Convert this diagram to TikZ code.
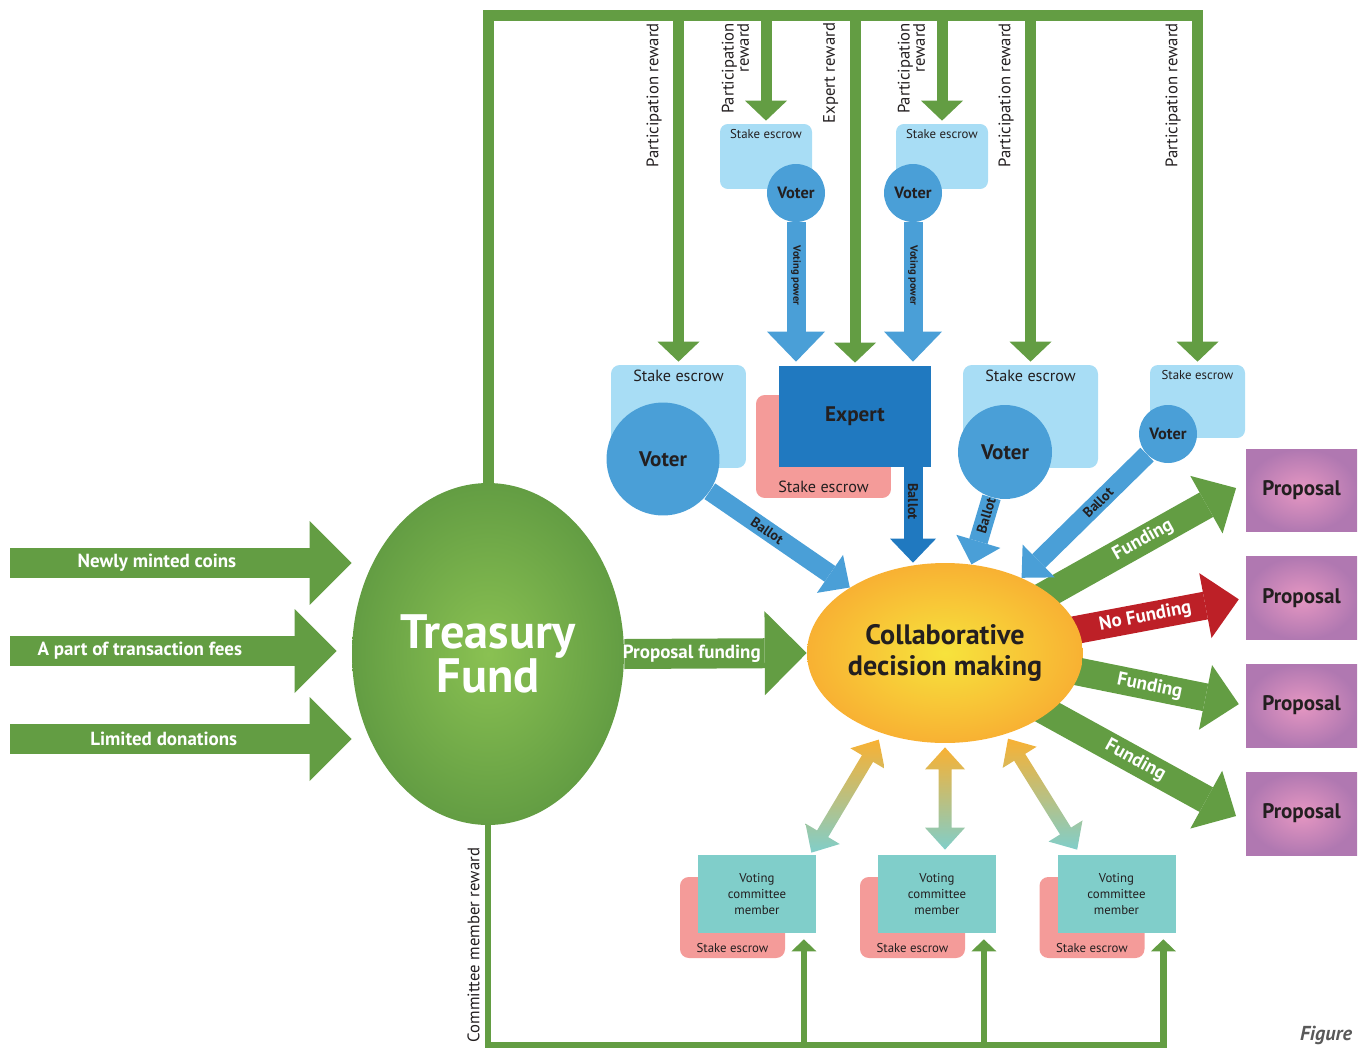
\documentclass[tikz,border=0pt]{standalone}
\usepackage{fontspec}
\setmainfont{PT Sans}
\usepackage{xcolor}
\usepackage{tikz}
\usetikzlibrary{arrows.meta,calc,shapes.geometric,backgrounds}

\definecolor{leaf}{HTML}{639D43}
\definecolor{leaflight}{HTML}{8AC152}
\definecolor{sky}{HTML}{A8DDF5}
\definecolor{voterblue}{HTML}{4A9FD7}
\definecolor{expertblue}{HTML}{2079C0}
\definecolor{salmon}{HTML}{F49B99}
\definecolor{tealbox}{HTML}{80CECA}
\definecolor{sun}{HTML}{F7E33C}
\definecolor{amber}{HTML}{F8B133}
\definecolor{plum}{HTML}{B078B1}
\definecolor{rose}{HTML}{E697C2}
\definecolor{alarm}{HTML}{BD2027}
\definecolor{ink}{HTML}{231F20}

\newcommand\fs[2]{\fontsize{#1}{#2}\selectfont}
% two-headed shaded arrow between two named points
\newcommand\gradarrow[2]{%
  \coordinate (ga) at ($(#1)!0.44cm!(#2)$);
  \coordinate (gb) at ($(#2)!0.44cm!(#1)$);
  \shade[top color=amber,bottom color=tealbox]
    (#1) -- ($(ga)!0.4cm!90:(#2)$) -- ($(ga)!0.13cm!90:(#2)$)
    -- ($(gb)!0.13cm!-90:(#1)$) -- ($(gb)!0.4cm!-90:(#1)$) -- (#2)
    -- ($(gb)!0.4cm!90:(#1)$) -- ($(gb)!0.13cm!90:(#1)$)
    -- ($(ga)!0.13cm!-90:(#2)$) -- ($(ga)!0.4cm!-90:(#2)$) -- cycle;}

\begin{document}
\begin{tikzpicture}[x=0.02cm,y=-0.02cm,
  esc/.style={fill=sky,rounded corners=5pt,minimum width=2.7cm,minimum height=2.06cm},
  escsmall/.style={fill=sky,rounded corners=4.5pt,minimum width=1.84cm,minimum height=1.3cm},
  escpink/.style={fill=salmon,rounded corners=5pt},
  lab/.style={text=ink,inner sep=3pt},
  voter/.style={circle,fill=voterblue,text=ink,inner sep=0pt,font=\bfseries\fs{12}{13}},
  prop/.style={inner color=rose,outer color=plum,minimum width=2.22cm,minimum height=1.66cm,text=ink,font=\bfseries\fs{12}{13}},
  member/.style={fill=tealbox,minimum width=2.36cm,minimum height=1.56cm,align=center,text=ink,font=\fs{7.3}{9}},
  fat/.style={line width=0.6cm,-{Triangle[length=0.84cm,width=1.68cm,line width=0pt]}},
  fund/.style={line width=0.56cm,-{Triangle[length=0.68cm,width=1.32cm,line width=0pt]}},
  ballot/.style={voterblue,line width=0.38cm,-{Triangle[length=0.48cm,width=0.92cm,line width=0pt]}},
  power/.style={voterblue,line width=0.38cm,shorten >=0.08cm,-{Triangle[length=0.6cm,width=1.16cm,line width=0pt]}},
  frame/.style={leaf,line width=0.22cm,line join=miter,shorten >=0.06cm,-{Triangle[length=0.4cm,width=0.84cm,line width=0pt]}},
  thinframe/.style={leaf,line width=0.13cm,line join=miter,shorten >=0.12cm,-{Triangle[length=0.24cm,width=0.5cm,line width=0pt]}},
  rlab/.style={rotate=90,anchor=south,inner xsep=0pt,inner ysep=6.5pt,text=ink,font=\fs{9.5}{8.7}},
  wlab/.style={text=white,font=\bfseries\fs{10.8}{12}},
  blab/.style={sloped,text=ink,inner sep=0pt,font=\bfseries\fs{8}{9}}
]
\useasboundingbox (0,0) rectangle (1362,1048);

\node[ellipse,inner color=leaflight,outer color=leaf,minimum width=5.44cm,minimum height=6.84cm,align=center,text=white,font=\bfseries\fs{27.5}{25}] (treasury) at (488,654) {Treasury\\Fund};
\node[ellipse,inner color=sun,outer color=amber,minimum width=5.52cm,minimum height=3.6cm,inner sep=0pt,align=center,text=ink,font=\bfseries\fs{16}{18}] (collab) at (945,653) {Collaborative\\decision making};

\node[escsmall,label={[lab,anchor=north,font=\fs{7.3}{8}]north:Stake escrow}] (stakeA) at (766,156.5) {};
\node[voter,minimum size=1.16cm,font=\bfseries\fs{9.3}{10}] (voterA) at (796,193) {Voter};
\node[escsmall,label={[lab,anchor=north,font=\fs{7.3}{8}]north:Stake escrow}] (stakeB) at (942,156.5) {};
\node[voter,minimum size=1.16cm,font=\bfseries\fs{9.3}{10}] (voterB) at (913,193) {Voter};

\node[esc,label={[lab,anchor=north,font=\fs{9.2}{10}]north:Stake escrow}] (stake1) at (678.5,416.5) {};
\node[voter,minimum size=2.26cm] (voter1) at (663,459) {Voter};
\node[escpink,minimum width=2.7cm,minimum height=2.06cm,label={[lab,anchor=south,font=\fs{9.2}{10}]south:Stake escrow}] (expstake) at (823.5,446.5) {};
\node[fill=expertblue,minimum width=3.04cm,minimum height=2.02cm,text=ink,font=\bfseries\fs{12}{13}] (expert) at (855,416.5) {Expert};
\node[esc,label={[lab,anchor=north,font=\fs{9.2}{10}]north:Stake escrow}] (stake3) at (1030.5,416.5) {};
\node[voter,minimum size=1.88cm] (voter3) at (1005,452) {Voter};
\node[escsmall,minimum width=1.9cm,minimum height=1.46cm,label={[lab,anchor=north,font=\fs{7.3}{8}]north:Stake escrow}] (stake4) at (1197.5,401.5) {};
\node[voter,minimum size=1.16cm,font=\bfseries\fs{9.3}{10}] (voter4) at (1168,434) {Voter};

\node[prop] (prop1) at (1301.5,490.5) {Proposal};
\node[prop] (prop2) at (1301.5,598) {Proposal};
\node[prop] (prop3) at (1301.5,705.5) {Proposal};
\node[prop] (prop4) at (1301.5,813.5) {Proposal};

\node[escpink,minimum width=2.1cm,minimum height=1.62cm,label={[lab,anchor=south,font=\fs{7.3}{8}]south:Stake escrow}] (cstake1) at (732.5,917.5) {};
\node[member] (member1) at (757,894) {Voting\\committee\\member};
\node[escpink,minimum width=2.1cm,minimum height=1.62cm,label={[lab,anchor=south,font=\fs{7.3}{8}]south:Stake escrow}] (cstake2) at (912.5,917.5) {};
\node[member] (member2) at (937,894) {Voting\\committee\\member};
\node[escpink,minimum width=2.1cm,minimum height=1.62cm,label={[lab,anchor=south,font=\fs{7.3}{8}]south:Stake escrow}] (cstake3) at (1092,917.5) {};
\node[member] (member3) at (1116.5,894) {Voting\\committee\\member};

\node[text=black!65,font=\bfseries\itshape\fs{11.5}{12}] (figlabel) at (1326,1035) {Figure};

\coordinate (in1) at (10,563);
\coordinate (in2) at (10,651);
\coordinate (in3) at (10,739);
\coordinate (top) at (0,15.5);
\coordinate (bot) at (0,1045);

\draw[fat,leaf] (in1) -- node[wlab,pos=.43]{Newly minted coins} (in1 -| treasury.west);
\draw[fat,leaf,shorten >=0.3cm] (in2) -- node[wlab,pos=.38]{A part of transaction fees} (in2 -| treasury.west);
\draw[fat,leaf] (in3) -- node[wlab,pos=.45]{Limited donations} (in3 -| treasury.west);
\draw[fat,leaf] (treasury.east) -- node[wlab,pos=.37]{Proposal funding} (collab.west);

\draw[frame] (treasury.north) |- (stake4.north |- top) -- node[rlab,pos=.229]{Participation reward} (stake4.north);
\draw[frame] (stake1.north |- top) -- node[rlab,pos=.229]{Participation reward} (stake1.north);
\draw[frame] (stakeA.north |- top) -- node[rlab,pos=.49,align=right]{Participation\\reward} (stakeA.north);
\draw[frame] (expert.north |- top) -- node[rlab,pos=.165]{Expert reward} (expert.north);
\draw[frame] (stakeB.north |- top) -- node[rlab,pos=.49,align=right]{Participation\\reward} (stakeB.north);
\draw[frame] (stake3.north |- top) -- node[rlab,pos=.229]{Participation reward} (stake3.north);

\draw[thinframe] (treasury.south) -- node[rlab,pos=.545,inner ysep=3pt]{Committee member reward} (treasury.south |- bot) -| (member3.-40);
\draw[thinframe] (member1.-40 |- bot) -- (member1.-40);
\draw[thinframe] (member2.-40 |- bot) -- (member2.-40);

\draw[power] (voterA) -- node[sloped,pos=.37,text=ink,inner sep=0pt,font=\bfseries\fs{6}{7}]{Voting power} (voterA |- expert.north);
\draw[power] (voterB) -- node[sloped,pos=.37,text=ink,inner sep=0pt,font=\bfseries\fs{6}{7}]{Voting power} (voterB |- expert.north);

\draw[ballot] (voter1) -- node[blab,pos=.41]{Ballot} (collab);
\draw[ballot,expertblue] (expert.south -| voterB) -- node[blab,pos=.36]{Ballot} (voterB |- collab.north);
\draw[ballot] (voter3) -- node[blab,pos=.27]{Ballot} (collab);
\draw[ballot] (voter4) -- node[blab,pos=.39]{Ballot} (collab);

\begin{scope}[on background layer]
\draw[fund,leaf,shorten >=0.22cm,shorten <=-0.3cm] (collab.30) -- node[wlab,sloped,pos=.48]{Funding} (prop1.172);
\draw[fund,alarm,shorten >=0.14cm,shorten <=-0.3cm] (collab.10) -- node[wlab,sloped,pos=.4]{No Funding} (prop2.west);
\draw[fund,leaf,shorten >=0.14cm,shorten <=-0.3cm] (collab.-8) -- node[wlab,sloped,pos=.42]{Funding} (prop3.west);
\draw[fund,leaf,shorten >=0.22cm,shorten <=-0.3cm] (collab.-30) -- node[wlab,sloped,pos=.44]{Funding} (prop4.188);
\end{scope}

\coordinate (g1a) at ($(collab.232)!0.14cm!(member1.north east)$);
\coordinate (g1b) at ($(member1.north east)+(-5,-2)$);
\gradarrow{g1a}{g1b}
\coordinate (g2a) at ($(collab.south)+(0,4)$);
\coordinate (g2b) at ($(collab.south |- member2.north)+(0,-5)$);
\gradarrow{g2a}{g2b}
\coordinate (g3a) at ($(collab.-53)!0.1cm!(member3.north west)$);
\coordinate (g3b) at ($(member3.north west)+(20,-5)$);
\gradarrow{g3a}{g3b}
\end{tikzpicture}
\end{document}
